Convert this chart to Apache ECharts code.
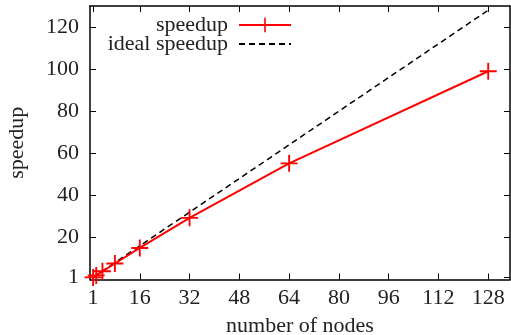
<!DOCTYPE html>
<html><head><meta charset="utf-8">
<script src="https://cdn.jsdelivr.net/npm/echarts@6/dist/echarts.min.js"></script>
<style>html,body{margin:0;padding:0;background:#fff}#c{width:511px;height:335px}</style>
</head><body><div id="c"></div>
<script>
const nodes = [1, 2, 4, 8, 16, 32, 64, 128];
const speedup = [1, 1.95, 3.9, 7.6, 15, 29.3, 55.2, 99];
const ideal = [1, 2, 4, 8, 16, 32, 64, 128];
const xTicks = [1, 16, 32, 48, 64, 80, 96, 112, 128];
const yTicks = [1, 20, 40, 60, 80, 100, 120];

const FONT = 'Liberation Serif';
const TXT = '#222';
const plus = 'path://M0,8.9h20v2.2h-20z M8.9,0h2.2v20h-2.2z';
const axisLine = {show: true, onZero: false, lineStyle: {color: '#000', width: 1.5}};
const tick = (vals) => ({show: true, inside: true, length: 6, customValues: vals, lineStyle: {color: '#000', width: 1}});

const chart = echarts.init(document.getElementById('c'), null, {renderer: 'canvas'});
chart.setOption({
  animation: false,
  grid: {left: 90, right: 1, top: 6, bottom: 55.5, containLabel: false, outerBoundsMode: 'none'},
  xAxis: [
    {type: 'value', min: 0, max: 135, position: 'bottom',
     name: 'number of nodes', nameLocation: 'middle', nameGap: 36,
     nameTextStyle: {fontFamily: FONT, fontSize: 22, color: TXT},
     axisLine: axisLine, axisTick: tick(xTicks),
     axisLabel: {customValues: xTicks, fontFamily: FONT, fontSize: 22, color: TXT, margin: 8},
     splitLine: {show: false}},
    {type: 'value', min: 0, max: 135, position: 'top',
     axisLine: axisLine, axisTick: tick(xTicks),
     axisLabel: {show: false}, splitLine: {show: false}}
  ],
  yAxis: [
    {type: 'value', min: 0, max: 130, position: 'left',
     name: 'speedup', nameLocation: 'middle', nameGap: 62, nameRotate: 90,
     nameTextStyle: {fontFamily: FONT, fontSize: 22, color: TXT},
     axisLine: axisLine, axisTick: tick(yTicks),
     axisLabel: {customValues: yTicks, fontFamily: FONT, fontSize: 22, color: TXT, margin: 11},
     splitLine: {show: false}},
    {type: 'value', min: 0, max: 130, position: 'right',
     axisLine: axisLine, axisTick: tick(yTicks),
     axisLabel: {show: false}, splitLine: {show: false}}
  ],
  legend: [
    {data: ['speedup'], right: 219, top: 14, padding: 0, align: 'right',
     itemWidth: 52, itemHeight: 18, itemGap: 0,
     textStyle: {fontFamily: FONT, fontSize: 22, color: TXT, padding: [0, 6, 0, 0]}},
    {data: [{name: 'ideal speedup', itemStyle: {opacity: 0}}], right: 219, top: 33, padding: 0, align: 'right',
     itemWidth: 52, itemHeight: 18, itemGap: 0,
     textStyle: {fontFamily: FONT, fontSize: 22, color: TXT, padding: [0, 6, 0, 0]}}
  ],
  series: [
    {name: 'ideal speedup', type: 'line', xAxisIndex: 0, yAxisIndex: 0,
     data: nodes.map((n, i) => [n, ideal[i]]),
     showSymbol: false, symbol: 'none',
     lineStyle: {color: '#000', width: 1.5, type: [6, 4]},
     itemStyle: {color: '#000'}, z: 2},
    {name: 'speedup', type: 'line', xAxisIndex: 0, yAxisIndex: 0,
     data: nodes.map((n, i) => [n, speedup[i]]),
     symbol: plus, symbolSize: 17,
     lineStyle: {color: '#ff0000', width: 2},
     itemStyle: {color: '#ff0000'}, z: 3}
  ]
});
</script></body></html>
